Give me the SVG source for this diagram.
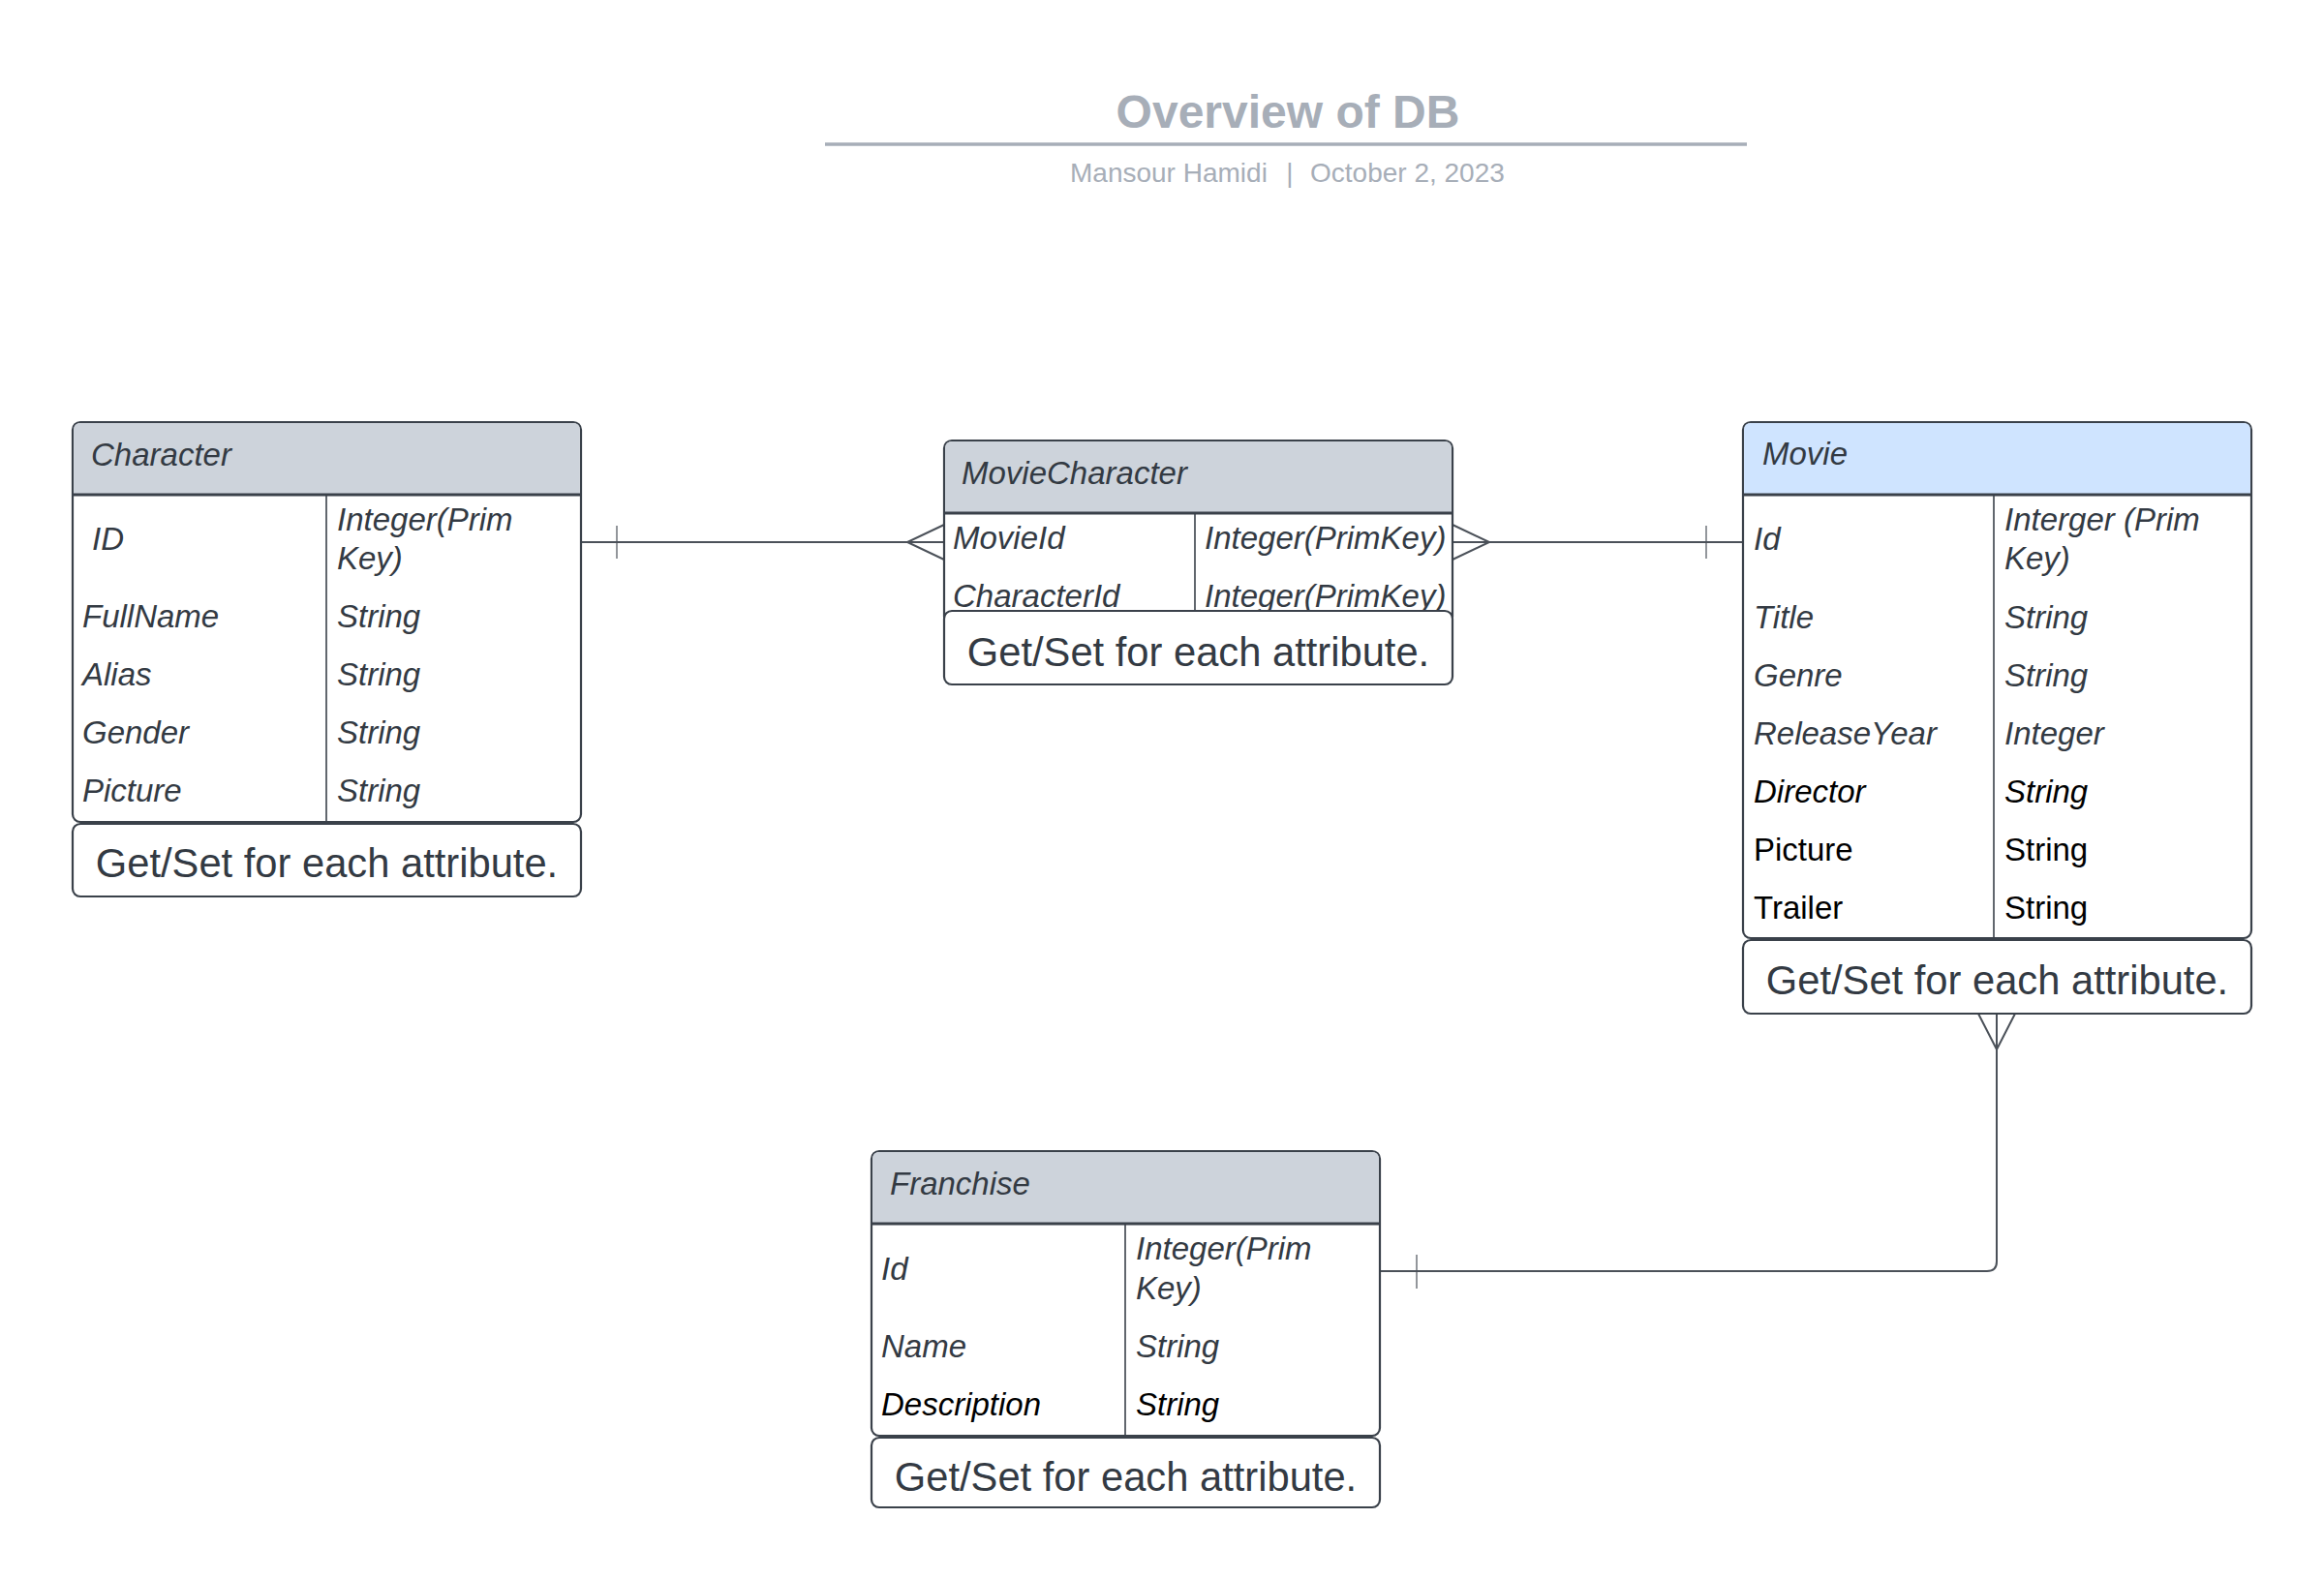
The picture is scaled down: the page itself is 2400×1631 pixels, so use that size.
<svg xmlns="http://www.w3.org/2000/svg" width="2400" height="1631" viewBox="0 0 2400 1631">
<style>
text{font-family:"Liberation Sans",Arial,sans-serif}
.title{font-size:48px;font-weight:bold;fill:#a7aeb8}
.sub{font-size:28px;fill:#a7aeb8}
.box{fill:#ffffff;stroke:#3a414a;stroke-width:2.2}
.hdr{fill:#cdd3db}
.hdrb{fill:#cfe4ff}
.sep{stroke:#3a414a;stroke-width:3}
.div{stroke:#3a414a;stroke-width:1.6}
.t{font-size:33px;font-style:italic;fill:#333a43}
.tk{font-size:33px;font-style:italic;fill:#000000}
.tn{font-size:33px;fill:#000000}
.m{font-size:41.7px;fill:#333a43;text-anchor:middle}
.c{fill:none;stroke:#4b5159;stroke-width:2}
.tick{fill:none;stroke:#4b5159;stroke-width:1.2}
</style>

<g id="header">
<text class="title" x="1330" y="132" text-anchor="middle">Overview of DB</text>
<line x1="852" y1="149" x2="1804" y2="149" stroke="#a7aeb8" stroke-width="3.5"/>
<text class="sub" x="1105" y="188">Mansour Hamidi</text>
<text class="sub" x="1332" y="188" text-anchor="middle">|</text>
<text class="sub" x="1353" y="188">October 2, 2023</text>
</g>

<g id="connectors">
<path class="c" d="M600,560 H975"/>
<path class="tick" d="M637,543 V577"/>
<path class="c" d="M975,542 L937,560 L975,578"/>
<path class="c" d="M1500,560 H1800"/>
<path class="c" d="M1500,542 L1538,560 L1500,578"/>
<path class="tick" d="M1762,543 V577"/>
<path class="c" d="M2062,1047 V1303 Q2062,1313 2052,1313 H1425"/>
<path class="c" d="M2043,1047 L2062,1084 L2081,1047"/>
<path class="tick" d="M1463,1296 V1331"/>
</g>

<g id="character">
<rect class="box" x="75" y="436" width="525" height="413" rx="8"/>
<path class="hdr" d="M76.1,511 V444 Q76.1,437.1 83,437.1 H592 Q598.9,437.1 598.9,444 V511 Z"/>
<line class="sep" x1="75" y1="511" x2="600" y2="511"/>
<line class="div" x1="337" y1="511" x2="337" y2="849"/>
<text class="t" x="94" y="481">Character</text>
<text class="t" x="95" y="568">ID</text>
<text class="t" x="348" y="548">Integer(Prim</text>
<text class="t" x="348" y="588">Key)</text>
<text class="t" x="85" y="648">FullName</text>
<text class="t" x="348" y="648">String</text>
<text class="t" x="85" y="708">Alias</text>
<text class="t" x="348" y="708">String</text>
<text class="t" x="85" y="768">Gender</text>
<text class="t" x="348" y="768">String</text>
<text class="t" x="85" y="828">Picture</text>
<text class="t" x="348" y="828">String</text>
<rect class="box" x="75" y="851" width="525" height="75" rx="8"/>
<text class="m" x="337.5" y="906">Get/Set for each attribute.</text>
</g>

<g id="moviecharacter">
<rect class="box" x="975" y="455" width="525" height="190" rx="8"/>
<path class="hdr" d="M976.1,530 V463 Q976.1,456.1 983,456.1 H1492 Q1498.9,456.1 1498.9,463 V530 Z"/>
<line class="sep" x1="975" y1="530" x2="1500" y2="530"/>
<line class="div" x1="1234" y1="530" x2="1234" y2="640"/>
<text class="t" x="993" y="500">MovieCharacter</text>
<text class="t" x="984" y="567">MovieId</text>
<text class="t" x="1244" y="567">Integer(PrimKey)</text>
<text class="t" x="984" y="627">CharacterId</text>
<text class="t" x="1244" y="627">Integer(PrimKey)</text>
<rect class="box" x="975" y="631" width="525" height="76" rx="8"/>
<text class="m" x="1237.5" y="688">Get/Set for each attribute.</text>
</g>

<g id="movie">
<rect class="box" x="1800" y="436" width="525" height="533" rx="8"/>
<path class="hdrb" d="M1801.1,511 V444 Q1801.1,437.1 1808,437.1 H2317 Q2323.9,437.1 2323.9,444 V511 Z"/>
<line class="sep" x1="1800" y1="511" x2="2325" y2="511"/>
<line class="div" x1="2059" y1="511" x2="2059" y2="969"/>
<text class="t" x="1820" y="480">Movie</text>
<text class="t" x="1811" y="568">Id</text>
<text class="t" x="2070" y="548">Interger (Prim</text>
<text class="t" x="2070" y="588">Key)</text>
<text class="t" x="1811" y="649">Title</text>
<text class="t" x="2070" y="649">String</text>
<text class="t" x="1811" y="709">Genre</text>
<text class="t" x="2070" y="709">String</text>
<text class="t" x="1811" y="769">ReleaseYear</text>
<text class="t" x="2070" y="769">Integer</text>
<text class="tk" x="1811" y="829">Director</text>
<text class="tk" x="2070" y="829">String</text>
<text class="tn" x="1811" y="889">Picture</text>
<text class="tn" x="2070" y="889">String</text>
<text class="tn" x="1811" y="949">Trailer</text>
<text class="tn" x="2070" y="949">String</text>
<rect class="box" x="1800" y="971" width="525" height="76" rx="8"/>
<text class="m" x="2062.5" y="1027">Get/Set for each attribute.</text>
</g>

<g id="franchise">
<rect class="box" x="900" y="1189" width="525" height="294" rx="8"/>
<path class="hdr" d="M901.1,1264 V1197 Q901.1,1190.1 908,1190.1 H1417 Q1423.9,1190.1 1423.9,1197 V1264 Z"/>
<line class="sep" x1="900" y1="1264" x2="1425" y2="1264"/>
<line class="div" x1="1162" y1="1264" x2="1162" y2="1483"/>
<text class="t" x="919" y="1234">Franchise</text>
<text class="t" x="910" y="1322">Id</text>
<text class="t" x="1173" y="1301">Integer(Prim</text>
<text class="t" x="1173" y="1342">Key)</text>
<text class="t" x="910" y="1402">Name</text>
<text class="t" x="1173" y="1402">String</text>
<text class="tk" x="910" y="1462">Description</text>
<text class="tk" x="1173" y="1462">String</text>
<rect class="box" x="900" y="1485" width="525" height="72" rx="8"/>
<text class="m" x="1162.5" y="1540">Get/Set for each attribute.</text>
</g>
</svg>
